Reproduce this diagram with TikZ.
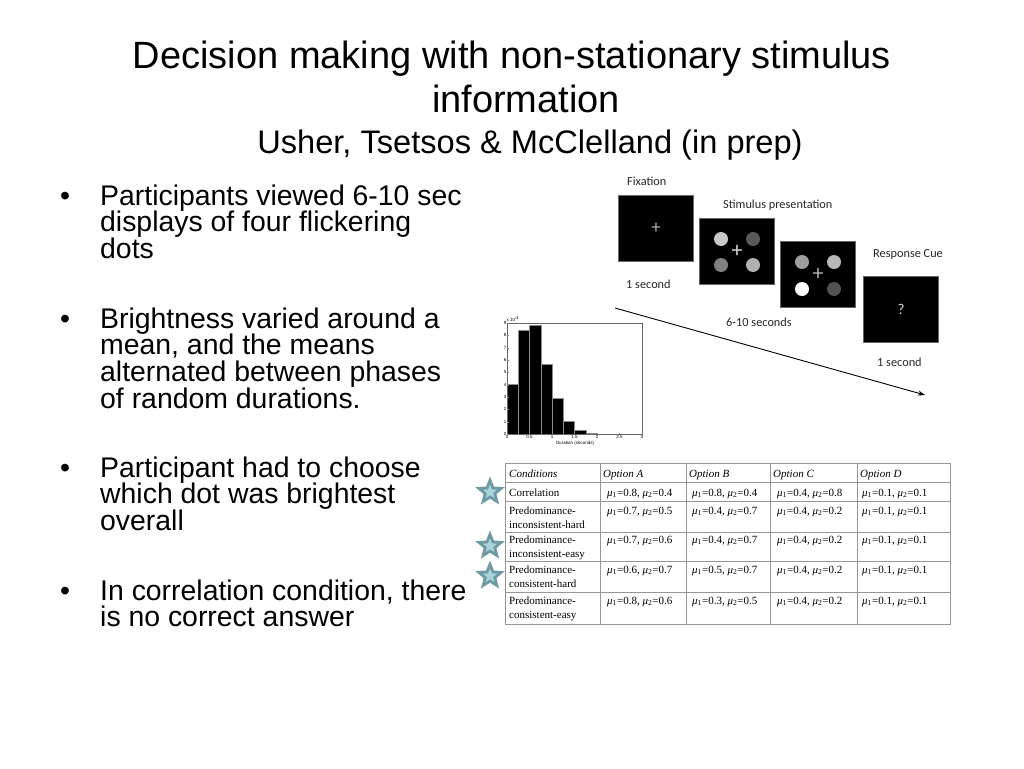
\documentclass[tikz,border=0pt]{standalone}
\usepackage{fontspec}
\setmainfont{Liberation Sans}
\newfontfamily\labelfont{Carlito}
\newfontfamily\tablefont{Liberation Serif}
\usetikzlibrary{%
        arrows.meta,
        shapes.geometric
    }
\definecolor{staredge}{RGB}{111, 154, 164}
\definecolor{starfill}{RGB}{168, 212, 220}
\definecolor{rule}{RGB}{150, 150, 150}
\newcommand{\muvals}[2]{\textit{μ}\textsubscript{1}=#1, \textit{μ}\textsubscript{2}=#2}

\begin{document}
\begin{tikzpicture}[x=1pt, y=-1pt,
    bullettext/.style={anchor=base west, align=left, inner sep=0,
        font=\fontsize{28.4}{26.7}\selectfont},
    screen/.style={draw=black!60, fill=black, minimum width=75,
        minimum height=66, inner sep=0},
    dot/.style={circle, minimum size=14, inner sep=0},
    tinylabel/.style={font=\labelfont\fontsize{12.3}{14}\selectfont,
        text=black!85, inner sep=0, anchor=base west},
    cell/.style={font=\tablefont\fontsize{11}{14.5}\selectfont, align=left,
        inner sep=0, anchor=base west},
    axislabel/.style={font=\fontsize{4.5}{5}\selectfont, inner sep=0.5}]
    \useasboundingbox (0, 0) rectangle (1024, 768);

    % title
    \node[anchor=base, font=\fontsize{38}{44}\selectfont] (title) at (512, 68)
        {Decision making with non-stationary stimulus};
    \node[anchor=base, font=\fontsize{38}{44}\selectfont] (title2) at (526, 112)
        {information};
    \node[anchor=base, font=\fontsize{32.6}{38}\selectfont] (authors) at (530, 153)
        {Usher, Tsetsos \& McClelland (in prep)};

    % bullets (placed at the baseline of their last line)
    \foreach \y in {205, 328, 477, 600}
        \node[anchor=base, font=\fontsize{28.4}{26.7}\selectfont] at (65, \y) {•};
    \node[bullettext] (viewed) at (100, 258.4) {Participants viewed 6-10 sec\\
        displays of four flickering\\dots};
    \node[bullettext] (brightness) at (100, 408.1) {Brightness varied around a\\
        mean, and the means\\alternated between phases\\of random durations.};
    \node[bullettext] (choose) at (100, 530.4) {Participant had to choose\\
        which dot was brightest\\overall};
    \node[bullettext] (correlation) at (100, 626.7) {In correlation condition, there\\
        is no correct answer};

    % trial sequence
    \node[screen] (fix) at (656, 228) {};
    \node[screen] (stim1) at (737, 251) {};
    \node[screen] (stim2) at (818, 274) {};
    \node[screen] (cue) at (901, 309) {};
    \node[font=\labelfont\fontsize{19}{19}\selectfont, text=black!30] at (fix) {+};
    \node[dot, fill=black!22] (s1a) at ([shift={(-16, -12)}]stim1.center) {};
    \node[dot, fill=black!65] (s1b) at ([shift={(16, -12)}]stim1.center) {};
    \node[dot, fill=black!50] (s1c) at ([shift={(-16, 14)}]stim1.center) {};
    \node[dot, fill=black!30] (s1d) at ([shift={(16, 14)}]stim1.center) {};
    \node[font=\labelfont\fontsize{22}{22}\selectfont, text=black!15] at (stim1) {+};
    \node[dot, fill=black!38] (s2a) at ([shift={(-16, -12)}]stim2.center) {};
    \node[dot, fill=black!28] (s2b) at ([shift={(16, -12)}]stim2.center) {};
    \node[dot, fill=white] (s2c) at ([shift={(-16, 15)}]stim2.center) {};
    \node[dot, fill=black!68] (s2d) at ([shift={(16, 15)}]stim2.center) {};
    \node[font=\labelfont\fontsize{22}{22}\selectfont, text=black!30] at (stim2) {+};
    \node[font=\labelfont\fontsize{15}{15}\selectfont, text=black!15] at (cue) {?};

    \node[tinylabel] (fixlabel) at (627, 185) {Fixation};
    \node[tinylabel] (stimlabel) at (723, 208) {Stimulus presentation};
    \node[tinylabel] (cuelabel) at (873, 257) {Response Cue};
    \node[tinylabel] (onesec) at (626, 288) {1 second};
    \node[tinylabel] (sixten) at (726, 326) {6-10 seconds};
    \node[tinylabel] (onesec2) at (877, 366) {1 second};

    \coordinate (tstart) at (615, 308);
    \coordinate (tend) at (925, 395);
    \draw[-{Stealth[length=7, width=5]}, line width=0.9] (tstart) -- (tend);

    % duration histogram
    \foreach \h [count=\i from 0] in {4.0, 8.43, 8.84, 5.68, 2.9, 1.0, 0.27, 0.05}
        \filldraw[fill=black, draw=black!45, line width=0.4]
            (507+11.25*\i, 434) rectangle ++(11.25, -12.33*\h);
    \draw[black!60, line width=0.5] (507, 323) rectangle (642, 434);
    \foreach \v [count=\i from 0] in {0, 0.5, 1, 1.5, 2, 2.5, 3} {
        \draw[black!50, line width=0.3] (507+22.5*\i, 434) -- ++(0, -1.5);
        \node[axislabel, anchor=north] at (507+22.5*\i, 435) {\v};
    }
    \foreach \v in {0, ..., 9} {
        \draw[black!50, line width=0.3] (507, 434-12.33*\v) -- ++(1.5, 0);
        \node[axislabel, anchor=east] at (507, 434-12.33*\v) {\v};
    }
    \node[axislabel, anchor=south west] (scale) at (506, 322) {x 10$^{4}$};
    \node[axislabel, anchor=north] (durlabel) at (575, 441) {Duration (seconds)};

    % conditions table
    \draw[rule, line width=0.8] (505, 463) rectangle (950, 624);
    \foreach \y in {482, 501, 532, 561, 592}
        \draw[rule, line width=0.8] (505, \y) -- (950, \y);
    \foreach \x in {600, 686, 770, 857}
        \draw[rule, line width=0.8] (\x, 463) -- (\x, 624);
    \node[cell] (h0) at (509, 477) {\textit{Conditions}};
    \node[cell] (h1) at (603, 477) {\textit{Option A}};
    \node[cell] (h2) at (689, 477) {\textit{Option B}};
    \node[cell] (h3) at (773, 477) {\textit{Option C}};
    \node[cell] (h4) at (860, 477) {\textit{Option D}};
    \foreach \y/\yc/\cond/\va/\vb/\vc [count=\r] in {
        496/496/{Correlation}/{{0.8}{0.4}}/{{0.8}{0.4}}/{{0.4}{0.8}},
        514/528.5/{Predominance-\\inconsistent-hard}/{{0.7}{0.5}}/{{0.4}{0.7}}/{{0.4}{0.2}},
        543/557.5/{Predominance-\\inconsistent-easy}/{{0.7}{0.6}}/{{0.4}{0.7}}/{{0.4}{0.2}},
        573/587.5/{Predominance-\\consistent-hard}/{{0.6}{0.7}}/{{0.5}{0.7}}/{{0.4}{0.2}},
        604/618.5/{Predominance-\\consistent-easy}/{{0.8}{0.6}}/{{0.3}{0.5}}/{{0.4}{0.2}}} {
        \node[cell] (c\r) at (509, \yc) {\cond};
        \node[cell] (a\r) at (607, \y) {\expandafter\muvals\va};
        \node[cell] (b\r) at (692, \y) {\expandafter\muvals\vb};
        \node[cell] (cc\r) at (777, \y) {\expandafter\muvals\vc};
        \node[cell] (d\r) at (862, \y) {\muvals{0.1}{0.1}};
    }

    % stars
    \foreach \y [count=\s] in {492, 546, 576} {
        \node[star, star points=5, star point ratio=2.3, fill=staredge,
            minimum size=31, inner sep=0] (star\s) at (490, \y) {};
        \node[star, star points=5, star point ratio=2.3, fill=starfill,
            minimum size=15, inner sep=0] at (star\s) {};
    }
\end{tikzpicture}
\end{document}
